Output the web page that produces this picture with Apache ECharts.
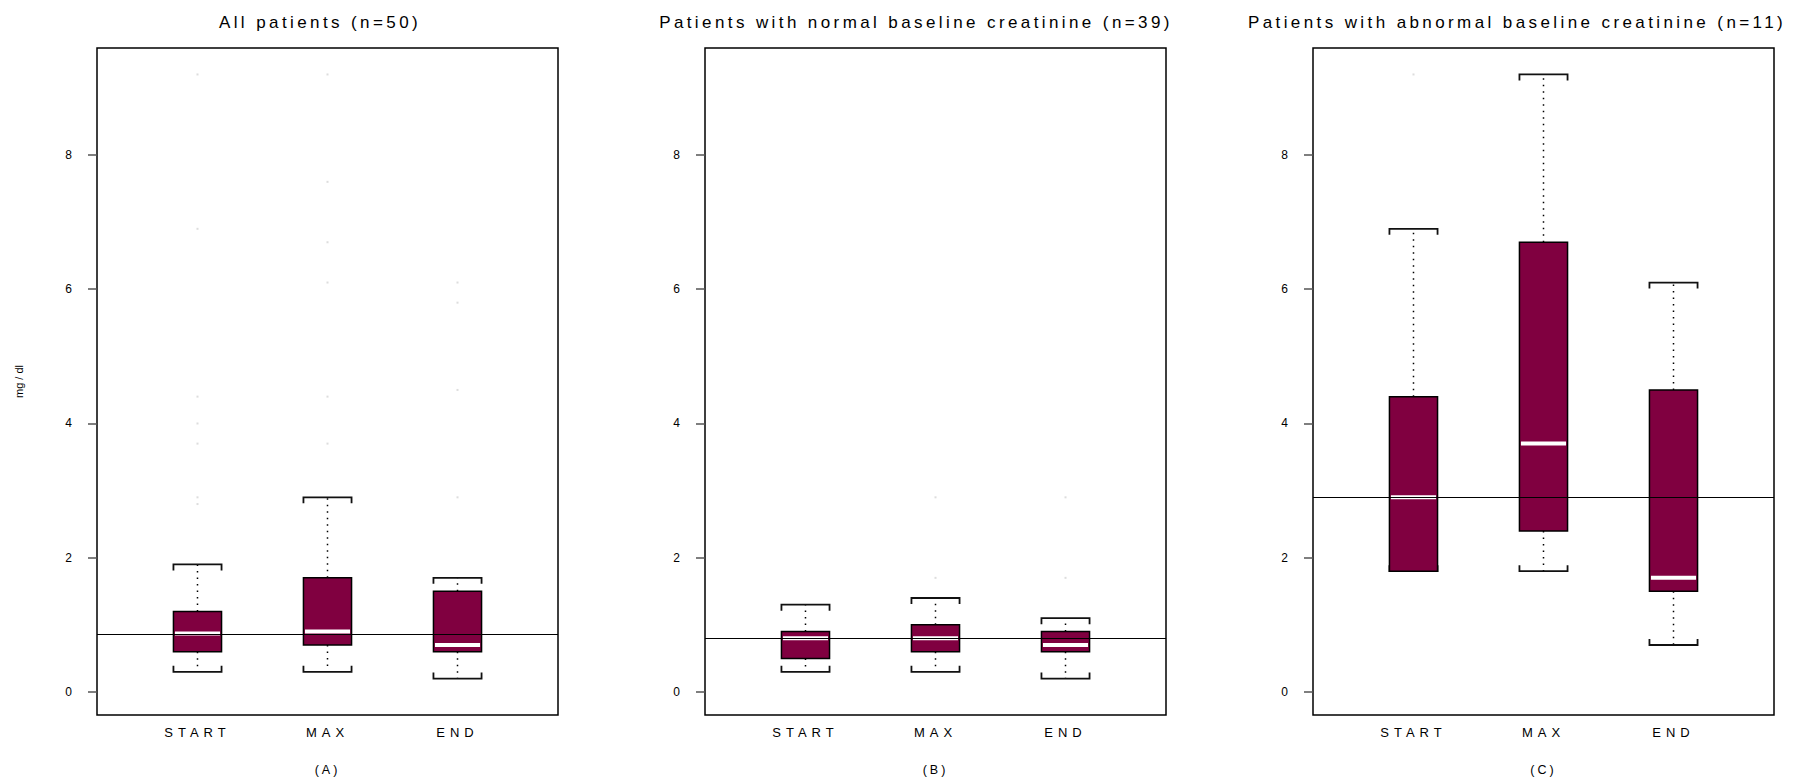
<!DOCTYPE html>
<html>
<head>
<meta charset="utf-8">
<script src="https://cdn.jsdelivr.net/npm/echarts@6/dist/echarts.min.js"></script>
<style>
html,body{margin:0;padding:0;background:#fff;}
#chart{width:1794px;height:777px;}
#chart text[style*="17px"]{letter-spacing:3.4px;}
#chart text[style*="13px"]{letter-spacing:5px;}
#chart text[style*="12.5px"]{letter-spacing:3px;}
</style>
</head>
<body>
<div id="chart"></div>
<script>
// ---------- data ----------
const categories = ['START', 'MAX', 'END'];
const panelTitles = [
  'All patients (n=50)',
  'Patients with normal baseline creatinine (n=39)',
  'Patients with abnormal baseline creatinine (n=11)'
];
const panelTags = ['(A)', '(B)', '(C)'];
const yTicks = [0, 2, 4, 6, 8];
const yUnit = 'mg / dl';

// Panel A: all patients
const lowA  = [0.3, 0.3, 0.2];
const q1A   = [0.6, 0.7, 0.6];
const medA  = [0.87, 0.9, 0.7];
const q3A   = [1.2, 1.7, 1.5];
const highA = [1.9, 2.9, 1.7];
const refA  = 0.86;
const outStartA = [9.2, 6.9, 4.4, 4.0, 3.7, 2.9, 2.8];
const outMaxA   = [9.2, 7.6, 6.7, 6.1, 4.4, 3.7];
const outEndA   = [6.1, 5.8, 4.5, 2.9];

// Panel B: normal baseline creatinine
const lowB  = [0.3, 0.3, 0.2];
const q1B   = [0.5, 0.6, 0.6];
const medB  = [0.8, 0.8, 0.7];
const q3B   = [0.9, 1.0, 0.9];
const highB = [1.3, 1.4, 1.1];
const refB  = 0.8;
const outStartB = [];
const outMaxB   = [2.9, 1.7];
const outEndB   = [2.9, 1.7];

// Panel C: abnormal baseline creatinine
const lowC  = [1.8, 1.8, 0.7];
const q1C   = [1.8, 2.4, 1.5];
const medC  = [2.9, 3.7, 1.7];
const q3C   = [4.4, 6.7, 4.5];
const highC = [6.9, 9.2, 6.1];
const refC  = 2.9;
const outStartC = [9.2];
const outMaxC   = [];
const outEndC   = [];

// ---------- build ----------
const panels = [
  {low: lowA, q1: q1A, med: medA, q3: q3A, high: highA, ref: refA, out: [outStartA, outMaxA, outEndA]},
  {low: lowB, q1: q1B, med: medB, q3: q3B, high: highB, ref: refB, out: [outStartB, outMaxB, outEndB]},
  {low: lowC, q1: q1C, med: medC, q3: q3C, high: highC, ref: refC, out: [outStartC, outMaxC, outEndC]}
];

const FONT = "'Liberation Sans', Arial, Helvetica, sans-serif";
const BOX_COLOR = '#800040';
const BOX_W = 0.37;
const gridLefts = [97, 705, 1313];
const titleCenters = [320, 916, 1517];

function renderBox(params, api) {
  const x = api.value(0);
  const lo = api.coord([x, api.value(1)]);
  const q1 = api.coord([x, api.value(2)]);
  const md = api.coord([x, api.value(3)]);
  const q3 = api.coord([x, api.value(4)]);
  const hi = api.coord([x, api.value(5)]);
  const hw = api.size([BOX_W, 0])[0] / 2;
  const cx = lo[0];
  const capH = 6;
  const dot = {stroke: '#000', lineWidth: 1.5, lineDash: [1.5, 5], fill: 'none'};
  const cap = {stroke: '#111', lineWidth: 1.8, fill: 'none'};
  return {
    type: 'group',
    children: [
      {type: 'line', shape: {x1: cx, y1: q3[1], x2: cx, y2: hi[1]}, style: dot},
      {type: 'line', shape: {x1: cx, y1: q1[1], x2: cx, y2: lo[1]}, style: dot},
      {type: 'polyline', shape: {points: [[cx - hw, hi[1] + capH], [cx - hw, hi[1]], [cx + hw, hi[1]], [cx + hw, hi[1] + capH]]}, style: cap},
      {type: 'polyline', shape: {points: [[cx - hw, lo[1] - capH], [cx - hw, lo[1]], [cx + hw, lo[1]], [cx + hw, lo[1] - capH]]}, style: cap},
      {type: 'rect', shape: {x: cx - hw, y: q3[1], width: 2 * hw, height: q1[1] - q3[1]}, style: {fill: BOX_COLOR, stroke: '#000', lineWidth: 1.5}},
      {type: 'line', shape: {x1: cx - hw + 1.5, y1: md[1], x2: cx + hw - 1.5, y2: md[1]}, style: {stroke: '#fff', lineWidth: 4}}
    ]
  };
}

const grid = [], xAxis = [], yAxis = [], series = [], title = [];
panels.forEach((p, i) => {
  grid.push({left: gridLefts[i], top: 48, width: 461, height: 667, show: true,
    outerBoundsMode: 'none', containLabel: false,
    borderColor: '#000', borderWidth: 1.5, backgroundColor: 'transparent'});
  title.push({text: panelTitles[i], left: titleCenters[i], top: 22, padding: 0,
    textAlign: 'center', textVerticalAlign: 'middle',
    textStyle: {fontSize: 17, fontWeight: 'normal', color: '#000', fontFamily: FONT}});
  xAxis.push({
    gridIndex: i, type: 'value', min: 0.227, max: 3.773,
    axisLine: {show: false}, axisTick: {show: false}, splitLine: {show: false},
    axisLabel: {customValues: [1, 2, 3], formatter: v => categories[Math.round(v) - 1],
      fontSize: 13, color: '#000', padding: [3, 0, 0, 0], fontFamily: FONT},
    name: panelTags[i], nameLocation: 'middle', nameGap: 48,
    nameTextStyle: {fontSize: 12.5, color: '#000', fontFamily: FONT}
  });
  const ya = {
    gridIndex: i, type: 'value', min: -0.343, max: 9.594,
    axisLine: {show: false}, splitLine: {show: false},
    axisTick: {show: true, customValues: yTicks, length: 9, lineStyle: {color: '#555', width: 1.5}},
    axisLabel: {customValues: yTicks, fontSize: 12, color: '#000', padding: [0, 17, 0, 0], fontFamily: FONT}
  };
  if (i === 0) {
    ya.name = yUnit; ya.nameLocation = 'middle'; ya.nameGap = 73;
    ya.nameTextStyle = {fontSize: 11, color: '#000', fontFamily: FONT};
  }
  yAxis.push(ya);

  const boxData = categories.map((c, k) => [k + 1, p.low[k], p.q1[k], p.med[k], p.q3[k], p.high[k]]);
  series.push({
    type: 'custom', xAxisIndex: i, yAxisIndex: i, z: 2,
    renderItem: renderBox, data: boxData,
    encode: {x: 0, y: [1, 2, 3, 4, 5]}, silent: true
  });
  const outData = [];
  p.out.forEach((arr, k) => arr.forEach(v => outData.push([k + 1, v])));
  series.push({
    type: 'scatter', xAxisIndex: i, yAxisIndex: i, z: 3,
    symbol: 'rect', symbolSize: 2, itemStyle: {color: '#d4d4d4'},
    data: outData, silent: true,
    markLine: {silent: true, symbol: ['none', 'none'], label: {show: false},
      lineStyle: {color: '#000', width: 1, type: 'solid'},
      data: [{yAxis: p.ref}], animation: false}
  });
});

const chart = echarts.init(document.getElementById('chart'), null, {renderer: 'svg'});
chart.setOption({
  animation: false,
  backgroundColor: '#fff',
  textStyle: {fontFamily: FONT},
  title, grid, xAxis, yAxis, series
});
</script>
</body>
</html>
